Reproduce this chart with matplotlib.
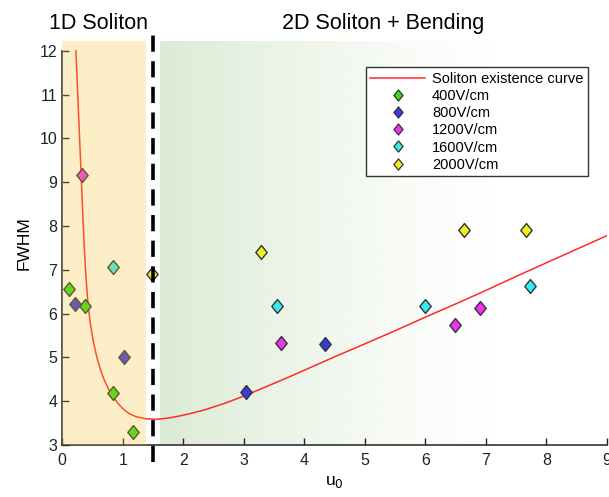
import numpy as np
import matplotlib.pyplot as plt
from matplotlib.path import Path
from matplotlib.patches import Rectangle
from matplotlib.lines import Line2D

plt.rcParams['font.family'] = ['Liberation Sans', 'DejaVu Sans']

# soliton existence curve
curve_x = [0.225, 0.26, 0.295, 0.33, 0.36, 0.39, 0.42, 0.46, 0.51, 0.575, 0.64,
           0.70, 0.77, 0.83, 0.92, 1.0, 1.1, 1.22, 1.38, 1.55, 1.75, 1.93, 2.15,
           2.37, 2.7, 3.04, 3.4, 3.74, 4.15, 4.56, 5.0, 5.5, 6.0, 6.5, 7.0, 7.5,
           8.0, 8.5, 9.0]
curve_y = [12.0, 10.85, 9.7, 8.55, 7.6, 6.85, 6.3, 5.8, 5.38, 4.98, 4.68,
           4.46, 4.26, 4.12, 3.95, 3.83, 3.72, 3.645, 3.60, 3.585, 3.615, 3.66, 3.73,
           3.81, 3.96, 4.14, 4.35, 4.55, 4.80, 5.05, 5.31, 5.61, 5.92, 6.22, 6.53, 6.85,
           7.16, 7.47, 7.78]

# measured points per field
u400 = [0.115, 0.37, 0.83, 1.17]
w400 = [6.55, 6.17, 4.18, 3.30]
u800 = [0.21, 1.02, 3.04, 4.34]
w800 = [6.23, 5.00, 4.20, 5.31]
u1200 = [0.32, 3.61, 6.49, 6.90]
w1200 = [9.17, 5.34, 5.73, 6.13]
u1600 = [0.84, 3.54, 5.99, 7.73]
w1600 = [7.06, 6.17, 6.18, 6.63]
u2000 = [1.48, 3.28, 6.64, 7.67]
w2000 = [6.91, 7.40, 7.90, 7.90]

labels = ['400V/cm', '800V/cm', '1200V/cm', '1600V/cm', '2000V/cm']
colors = ['#33dd22', '#3a3ae0', '#ee33ee', '#33eeee', '#eeee22']

diamond = Path([(0, 1), (0.82, 0), (0, -1), (-0.82, 0), (0, 1)],
               [Path.MOVETO, Path.LINETO, Path.LINETO, Path.LINETO, Path.CLOSEPOLY])

fig = plt.figure(figsize=(6.09, 4.97), dpi=100)
ax = fig.add_axes([0.1023, 0.1046, 0.8944, 0.8127])
ax.set_xlim(0, 9)
ax.set_ylim(3, 12.22)

# green fading background (2D region)
grad = np.zeros((1, 256, 4))
grad[..., 0] = 0.80
grad[..., 1] = 0.89
grad[..., 2] = 0.76
grad[..., 3] = np.linspace(0.75, 0.0, 256) ** 1.3
ax.imshow(grad, extent=[1.61, 7.2, 3, 12.22], aspect='auto', zorder=0,
          interpolation='bilinear')

line_curve, = ax.plot(curve_x, curve_y, color='#ff2a2a', lw=1.1, zorder=2,
                      label='Soliton existence curve')

handles = [line_curve]
for u, w, c, lab in zip([u400, u800, u1200, u1600, u2000],
                        [w400, w800, w1200, w1600, w2000], colors, labels):
    ax.plot(u, w, ls='none', marker=diamond, ms=10, mfc=c, mec='#333333',
            mew=1.0, zorder=3)
    handles.append(Line2D([], [], ls='none', marker=diamond, ms=8, mfc=c,
                          mec='#333333', mew=0.9, label=lab))

# yellow translucent overlay (1D region), drawn on top of the marks
ax.add_patch(Rectangle((0, 3), 1.39, 9.22, facecolor='#f7bf23', alpha=0.25,
                       edgecolor='none', zorder=4))

# dashed boundary
ax.plot([1.5, 1.5], [2.61, 12.5], color='black', lw=2.6, ls=(0, (4.5, 2.6)),
        clip_on=False, zorder=5)

ax.text(0.6, 12.62, '1D Soliton', ha='center', va='center', fontsize=15.5)
ax.text(5.3, 12.62, '2D Soliton + Bending', ha='center', va='center', fontsize=15.5)

ax.set_xticks(range(0, 10))
ax.set_yticks(range(3, 13))
for s in ['top', 'right']:
    ax.spines[s].set_visible(False)
for s in ['left', 'bottom']:
    ax.spines[s].set_color('#333333')
    ax.spines[s].set_linewidth(1.2)
ax.spines['left'].set_bounds(3, 12)
ax.tick_params(direction='in', length=5, labelsize=11.5, colors='#222222',
               width=1)
ax.tick_params(axis='x', pad=6)
ax.set_xlabel('u$_0$', fontsize=12.5, labelpad=4)
ax.set_ylabel('FWHM', fontsize=12.5, labelpad=6)

leg = ax.legend(handles=handles, loc='upper left', bbox_to_anchor=(0.557, 0.935),
                fontsize=10.5, frameon=True, fancybox=False, framealpha=1,
                edgecolor='#333333', borderpad=0.3, labelspacing=0.22,
                handlelength=3.8, handletextpad=0.45, borderaxespad=0)
leg.get_frame().set_linewidth(1.0)
leg.set_zorder(6)

fig.savefig('out.png', dpi=100)
